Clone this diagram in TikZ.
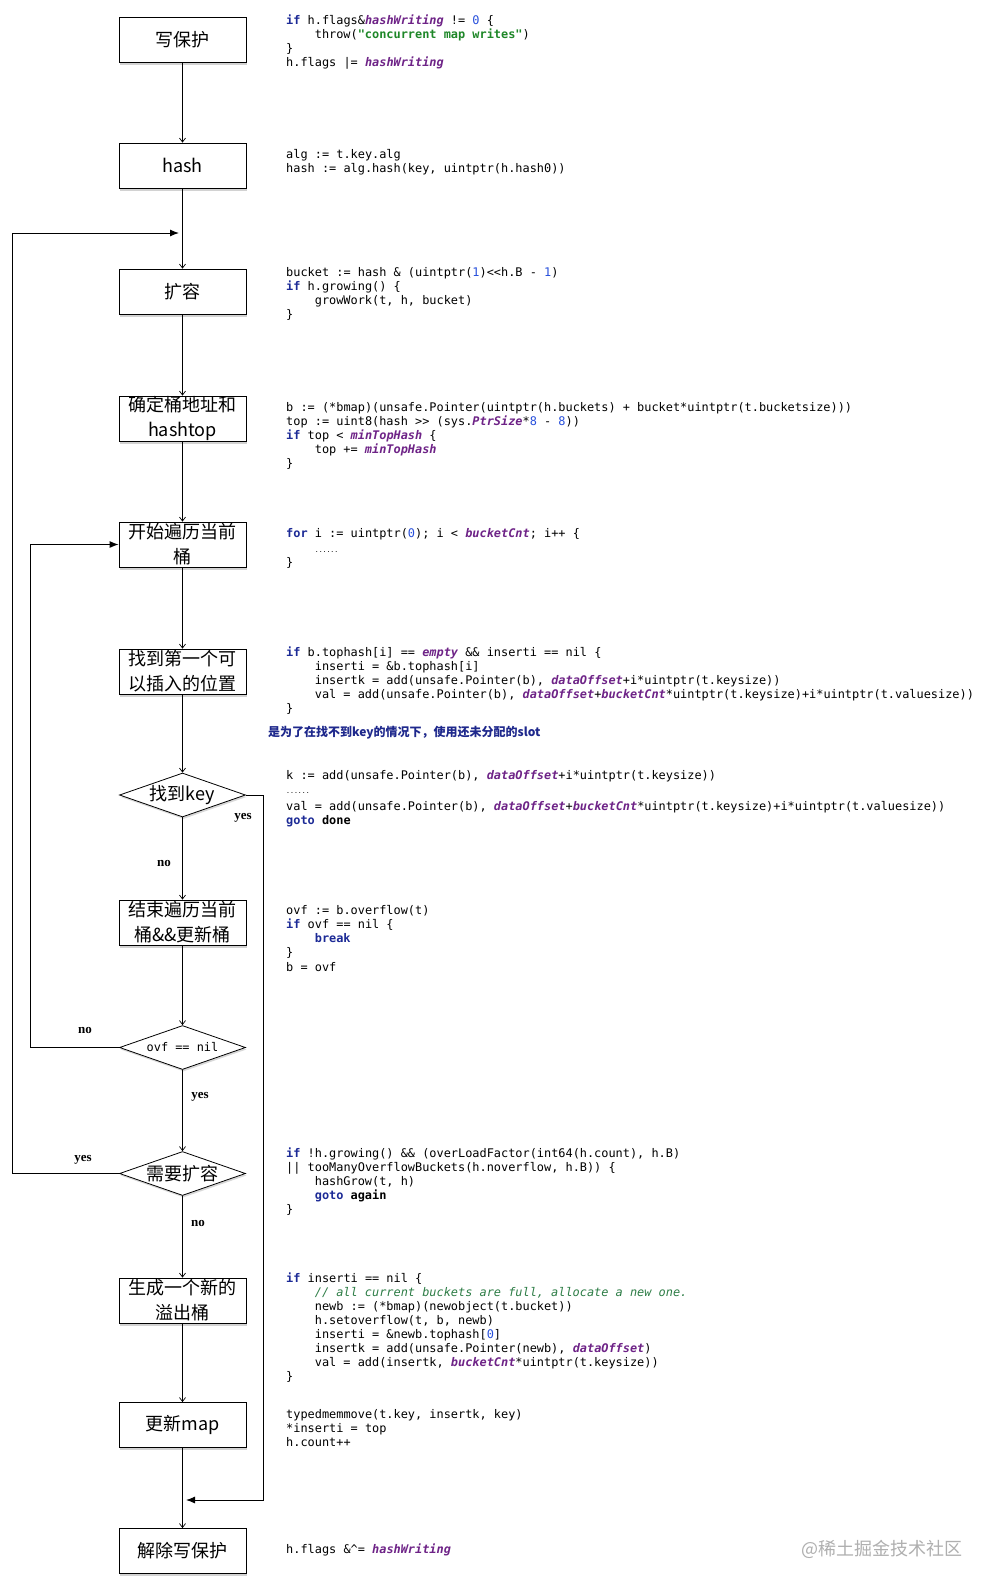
\documentclass[tikz,border=0pt]{standalone}
\usepackage{fontspec}
\setmainfont{Liberation Serif}
\newfontfamily\cjk{Noto Sans CJK SC}
\newfontfamily\code{DejaVu Sans Mono}
\usetikzlibrary{shapes.geometric,arrows.meta,shadows}
\definecolor{kwc}{RGB}{28,42,150}
\definecolor{puc}{RGB}{110,35,135}
\definecolor{nmc}{RGB}{40,80,220}
\definecolor{stc}{RGB}{30,135,40}
\definecolor{cmc}{RGB}{45,125,70}
\definecolor{notec}{RGB}{30,40,140}
\definecolor{wmc}{RGB}{175,175,175}
\newcommand\kw[1]{{\color{kwc}\bfseries #1}}
\newcommand\pu[1]{{\color{puc}\bfseries\itshape #1}}
\newcommand\nm[1]{{\color{nmc}#1}}
\newcommand\st[1]{{\color{stc}\bfseries #1}}
\newcommand\cm[1]{{\color{cmc}\itshape #1}}
\newcommand\smalldots{{\fontsize{6.5}{7}\selectfont ......}}
\newcommand\cl[4]{\node[codeline] (#1) at ({286+28.64*#2},{#3+4}) {#4};}
\begin{document}
\begin{tikzpicture}[x=1pt,y=-1pt,
  stepbox/.style={draw, line width=0.8pt, fill=white, minimum width=127pt, minimum height=45pt,
    inner sep=0pt, align=center, font=\cjk\fontsize{18}{25}\selectfont,
    drop shadow={shadow xshift=1pt,shadow yshift=-2.5pt,opacity=0.35}},
  decision/.style={diamond, draw, line width=0.8pt, fill=white, minimum width=126pt, minimum height=44pt,
    inner sep=-12pt, font=\cjk\fontsize{18}{22}\selectfont,
    drop shadow={shadow xshift=1pt,shadow yshift=-2pt,opacity=0.3}},
  mainarrow/.style={line width=0.8pt, -{Straight Barb[length=4pt,width=6pt,line width=0.7pt]}},
  backarrow/.style={line width=1pt, -{Latex[length=9pt,width=7pt]}},
  yn/.style={font=\bfseries\fontsize{13}{15}\selectfont, inner sep=0pt},
  codeline/.style={anchor=base west, inner sep=0pt, font=\code\fontsize{11.9}{14}\selectfont},
]
\useasboundingbox (0,0) rectangle (993,1591);
\fill[white] (0,0) rectangle (993,1591);

% flow nodes
\node[stepbox] (n1) at (182.5,39.5) {写保护};
\node[stepbox] (n2) at (182.5,165.5) {hash};
\node[stepbox] (n3) at (182.5,291.5) {扩容};
\node[stepbox] (n4) at (182.5,418.5) {确定桶地址和\\hashtop};
\node[stepbox] (n5) at (182.5,544.5) {开始遍历当前\\桶};
\node[stepbox] (n6) at (182.5,671.5) {找到第一个可\\以插入的位置};
\node[decision] (d1) at (182.5,795) {找到key};
\node[stepbox] (n8) at (182.5,922.5) {结束遍历当前\\桶\&\&更新桶};
\node[decision, font=\code\fontsize{11.9}{14}\selectfont] (d2) at (182.5,1047.5) {ovf == nil};
\node[decision] (d3) at (182.5,1173.5) {需要扩容};
\node[stepbox] (n11) at (182.5,1300.5) {生成一个新的\\溢出桶};
\node[stepbox] (n12) at (182.5,1425) {更新map};
\node[stepbox] (n13) at (182.5,1551) {解除写保护};

\coordinate (j1) at (179,233);
\coordinate (j2) at (186,1500);

% main connectors
\draw[mainarrow] (n1) -- (n2);
\draw[mainarrow] (n2) -- (n3);
\draw[mainarrow] (n3) -- (n4);
\draw[mainarrow] (n4) -- (n5);
\draw[mainarrow] (n5) -- (n6);
\draw[mainarrow] (n6) -- (d1);
\draw[mainarrow] (d1) -- (n8);
\draw[mainarrow] (n8) -- (d2);
\draw[mainarrow] (d2) -- (d3);
\draw[mainarrow] (d3) -- (n11);
\draw[mainarrow] (n11) -- (n12);
\draw[mainarrow] (n12) -- (n13);

% back / side connectors
\draw[backarrow] (d1.east) -- ++(18,0) |- (j2);
\draw[backarrow] (d2.west) -- ++(-89,0) |- (n5.west);
\draw[backarrow] (d3.west) -- ++(-107,0) |- (j1);

% yes/no labels
\node[yn] (y1) at (243,818) {yes};
\node[yn] (no1) at (164,863) {no};
\node[yn] (no2) at (85,1030) {no};
\node[yn] (y2) at (200,1097) {yes};
\node[yn] (y3) at (83,1160) {yes};
\node[yn] (no3) at (198,1223) {no};

% code block 1
\cl{a1}{0}{20.5}{\kw{if} h.flags\&\pu{hashWriting} != \nm{0} \{}
\cl{a2}{1}{34.5}{throw(\st{"concurrent map writes"})}
\cl{a3}{0}{48.5}{\}}
\cl{a4}{0}{62.5}{h.flags |= \pu{hashWriting}}
% block 2
\cl{b1}{0}{154}{alg := t.key.alg}
\cl{b2}{0}{168}{hash := alg.hash(key, uintptr(h.hash0))}
% block 3
\cl{c1}{0}{272}{bucket := hash \& (uintptr(\nm{1})<{}<h.B - \nm{1})}
\cl{c2}{0}{286}{\kw{if} h.growing() \{}
\cl{c3}{1}{300}{growWork(t, h, bucket)}
\cl{c4}{0}{314}{\}}
% block 4
\cl{e1}{0}{407}{b := (*bmap)(unsafe.Pointer(uintptr(h.buckets) + bucket*uintptr(t.bucketsize)))}
\cl{e2}{0}{421}{top := uint8(hash >{}> (sys.\pu{PtrSize}*\nm{8} - \nm{8}))}
\cl{e3}{0}{435}{\kw{if} top < \pu{minTopHash} \{}
\cl{e4}{1}{449}{top += \pu{minTopHash}}
\cl{e5}{0}{463}{\}}
% block 5
\cl{f1}{0}{533}{\kw{for} i := uintptr(\nm{0}); i < \pu{bucketCnt}; i++ \{}
\cl{f2}{1}{548}{\smalldots}
\cl{f3}{0}{562}{\}}
% block 6
\cl{g1}{0}{652}{\kw{if} b.tophash[i] == \pu{empty} \&\& inserti == nil \{}
\cl{g2}{1}{666}{inserti = \&b.tophash[i]}
\cl{g3}{1}{680.5}{insertk = add(unsafe.Pointer(b), \pu{dataOffset}+i*uintptr(t.keysize))}
\cl{g4}{1}{694.5}{val = add(unsafe.Pointer(b), \pu{dataOffset}+\pu{bucketCnt}*uintptr(t.keysize)+i*uintptr(t.valuesize))}
\cl{g5}{0}{708.5}{\}}
\node[anchor=base west, inner sep=0pt, font=\cjk\bfseries\fontsize{12}{14}\selectfont, text=notec] (note) at (268,736) {是为了在找不到key的情况下，使用还未分配的slot};
% block 7
\cl{h1}{0}{775}{k := add(unsafe.Pointer(b), \pu{dataOffset}+i*uintptr(t.keysize))}
\cl{h2}{0}{789}{\smalldots}
\cl{h3}{0}{806}{val = add(unsafe.Pointer(b), \pu{dataOffset}+\pu{bucketCnt}*uintptr(t.keysize)+i*uintptr(t.valuesize))}
\cl{h4}{0}{820}{\kw{goto} \textbf{done}}
% block 8
\cl{i1}{0}{910}{ovf := b.overflow(t)}
\cl{i2}{0}{924}{\kw{if} ovf == nil \{}
\cl{i3}{1}{938}{\kw{break}}
\cl{i4}{0}{952}{\}}
\cl{i5}{0}{967}{b = ovf}
% block 9
\cl{m1}{0}{1153}{\kw{if} !h.growing() \&\& (overLoadFactor(int64(h.count), h.B)}
\cl{m2}{0}{1167}{|| tooManyOverflowBuckets(h.noverflow, h.B)) \{}
\cl{m3}{1}{1181}{hashGrow(t, h)}
\cl{m4}{1}{1195}{\kw{goto} \textbf{again}}
\cl{m5}{0}{1209}{\}}
% block 10
\cl{p1}{0}{1278}{\kw{if} inserti == nil \{}
\cl{p2}{1}{1292}{\cm{// all current buckets are full, allocate a new one.}}
\cl{p3}{1}{1306}{newb := (*bmap)(newobject(t.bucket))}
\cl{p4}{1}{1320}{h.setoverflow(t, b, newb)}
\cl{p5}{1}{1334}{inserti = \&newb.tophash[\nm{0}]}
\cl{p6}{1}{1348}{insertk = add(unsafe.Pointer(newb), \pu{dataOffset})}
\cl{p7}{1}{1362}{val = add(insertk, \pu{bucketCnt}*uintptr(t.keysize))}
\cl{p8}{0}{1376}{\}}
% block 11
\cl{q1}{0}{1414}{typedmemmove(t.key, insertk, key)}
\cl{q2}{0}{1428}{*inserti = top}
\cl{q3}{0}{1442}{h.count++}
% block 12
\cl{r1}{0}{1549}{h.flags \&\textasciicircum= \pu{hashWriting}}

% watermark
\node[anchor=base west, inner sep=0pt, font=\cjk\fontsize{18}{20}\selectfont, text=wmc] (wm) at (801,1555) {@稀土掘金技术社区};
\end{tikzpicture}
\end{document}
